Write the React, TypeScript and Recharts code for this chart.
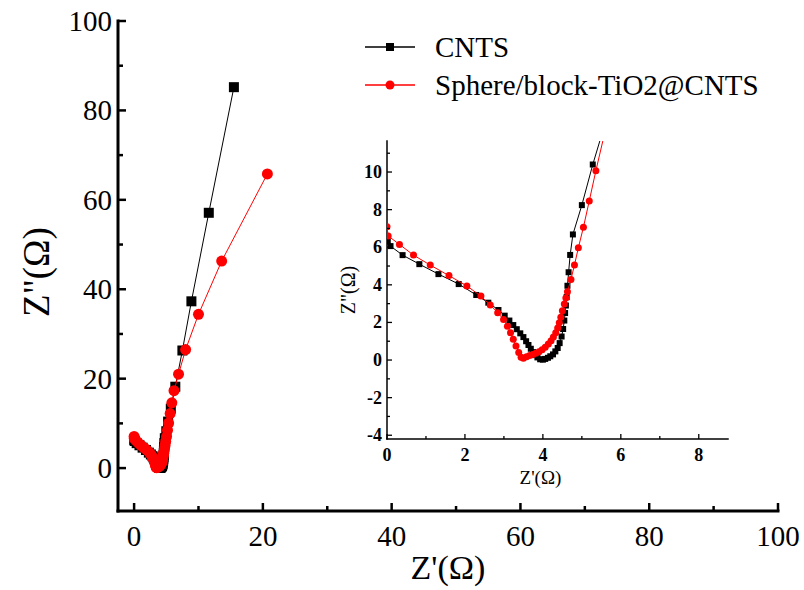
import React from 'react';
import { ScatterChart, Scatter, XAxis, YAxis, Label } from 'recharts';

// ---- data ----
const seriesNames = ['CNTS', 'Sphere/block-TiO2@CNTS'];
const seriesColors = ['#000000', '#ff0000'];

// CNTS: Z' (real) and Z'' (imaginary)
const cntsZre = [
  0.02, 0.09, 0.40, 0.83, 1.32, 1.84, 2.29, 2.60, 2.86, 3.02, 3.14, 3.24, 3.33, 3.42, 3.50, 3.57,
  3.63, 3.69, 3.75, 3.80, 3.86, 3.93, 4.00, 4.06, 4.13, 4.19, 4.26, 4.32, 4.38, 4.43, 4.48, 4.52,
  4.55, 4.57, 4.59, 4.61, 4.63, 4.66, 4.70, 4.77, 5.00, 5.28, 5.70, 6.40, 7.50, 8.90, 11.6, 15.5,
];
const cntsZim = [
  6.30, 6.06, 5.58, 5.10, 4.57, 4.04, 3.46, 3.05, 2.66, 2.36, 2.10, 1.86, 1.64, 1.42, 1.22, 1.00,
  0.80, 0.60, 0.42, 0.26, 0.14, 0.04, 0.02, 0.06, 0.12, 0.20, 0.30, 0.46, 0.64, 0.90, 1.25, 1.65,
  2.10, 2.50, 2.90, 3.35, 3.95, 4.67, 5.59, 6.68, 8.24, 10.4, 13.3, 18.2, 26.3, 37.3, 57.1, 85.2,
];

// Sphere/block-TiO2@CNTS
const tioZre = [
  0.00, 0.03, 0.32, 0.68, 1.11, 1.59, 2.05, 2.41, 2.65, 2.84, 2.99, 3.09, 3.17, 3.24, 3.31, 3.38,
  3.44, 3.50, 3.58, 3.66, 3.74, 3.82, 3.90, 3.98, 4.06, 4.14, 4.21, 4.27, 4.33, 4.38, 4.42, 4.46,
  4.50, 4.55, 4.59, 4.63, 4.72, 4.81, 4.91, 5.04, 5.19, 5.36, 5.60, 5.86, 6.20, 6.90, 8.00, 10.0,
  13.6, 20.7,
];
const tioZim = [
  7.09, 6.60, 6.15, 5.58, 5.05, 4.49, 3.94, 3.40, 2.93, 2.52, 2.16, 1.80, 1.45, 1.10, 0.75, 0.40,
  0.15, 0.10, 0.18, 0.24, 0.30, 0.36, 0.44, 0.55, 0.68, 0.85, 1.02, 1.22, 1.45, 1.70, 1.98, 2.28,
  2.62, 2.98, 3.30, 3.63, 4.29, 5.05, 5.97, 7.06, 8.46, 10.07, 12.2, 14.6, 17.3, 21.0, 26.5, 34.4,
  46.3, 65.8,
];

const mainXTicks = [0, 10, 20, 30, 40, 50, 60, 70, 80, 90, 100];
const mainYTicks = [0, 10, 20, 30, 40, 50, 60, 70, 80, 90, 100];
const insetXTicks = [0, 1, 2, 3, 4, 5, 6, 7, 8];
const insetYTicks = [-4, -3, -2, -1, 0, 1, 2, 3, 4, 5, 6, 7, 8, 9, 10, 11];

const mainXDomain = [-2.5, 100];
const mainYDomain = [-9.6, 100];
const insetXDomain = [0, 8.75];
const insetYDomain = [-4.2, 11.65];

const cntsData = cntsZre.map((x, i) => ({ x, y: cntsZim[i] }));
const tioData = tioZre.map((x, i) => ({ x, y: tioZim[i] }));

const FONT = 'Liberation Serif, DejaVu Serif, serif';
const fontStyle = { fontFamily: "'Liberation Serif', 'DejaVu Serif', serif" };

// ---- markers ----
const makeSquare = (size: number, color: string) => (p: any) => {
  if (p.cx == null || p.cy == null) return <g />;
  return <rect x={p.cx - size / 2} y={p.cy - size / 2} width={size} height={size} fill={color} />;
};
const makeCircle = (r: number, color: string) => (p: any) => {
  if (p.cx == null || p.cy == null) return <g />;
  return <circle cx={p.cx} cy={p.cy} r={r} fill={color} />;
};

// ---- ticks (inward) ----
const MainXTick = (p: any) => {
  const v = p.payload.value as number;
  const major = v % 20 === 0;
  return (
    <g>
      <line x1={p.x} x2={p.x} y1={p.y} y2={p.y - (major ? 8 : 5)} stroke="#000" strokeWidth={2.5} />
      {major && (
        <text x={p.x} y={p.y + 35} textAnchor="middle" fontSize={29} fontFamily={FONT} style={fontStyle} fill="#000">
          {v}
        </text>
      )}
    </g>
  );
};
const MainYTick = (p: any) => {
  const v = p.payload.value as number;
  const major = v % 20 === 0;
  return (
    <g>
      <line x1={p.x} x2={p.x + (major ? 8 : 5)} y1={p.y} y2={p.y} stroke="#000" strokeWidth={2.5} />
      {major && (
        <text x={p.x - 6} y={p.y + 10} textAnchor="end" fontSize={29} fontFamily={FONT} style={fontStyle} fill="#000">
          {v}
        </text>
      )}
    </g>
  );
};
const InsetXTick = (p: any) => {
  const v = p.payload.value as number;
  const major = v % 2 === 0;
  return (
    <g>
      <line x1={p.x} x2={p.x} y1={p.y} y2={p.y - (major ? 5 : 3)} stroke="#000" strokeWidth={1.3} />
      {major && (
        <text x={p.x} y={p.y + 22} textAnchor="middle" fontSize={18} fontWeight="bold" fontFamily={FONT} style={fontStyle} fill="#000">
          {v}
        </text>
      )}
    </g>
  );
};
const InsetYTick = (p: any) => {
  const v = p.payload.value as number;
  const major = v % 2 === 0;
  return (
    <g>
      <line x1={p.x} x2={p.x + (major ? 5 : 3)} y1={p.y} y2={p.y} stroke="#000" strokeWidth={1.3} />
      {major && (
        <text x={p.x - 5} y={p.y + 6} textAnchor="end" fontSize={18} fontWeight="bold" fontFamily={FONT} style={fontStyle} fill="#000">
          {v}
        </text>
      )}
    </g>
  );
};

const mainAxisLine = { stroke: '#000', strokeWidth: 3, strokeLinecap: 'square' as const };
const insetAxisLine = { stroke: '#000', strokeWidth: 1.5, strokeLinecap: 'square' as const };

export default function App() {
  return (
    <div style={{ position: 'absolute', left: 0, top: 0, width: 804, height: 590, background: '#fff', ...fontStyle }}>
      {/* main chart */}
      <div style={{ position: 'absolute', left: 0, top: 0 }}>
        <ScatterChart width={804} height={590} margin={{ top: 21, right: 26, bottom: 0, left: 0 }}>
          <XAxis
            type="number"
            dataKey="x"
            domain={mainXDomain}
            ticks={mainXTicks}
            interval={0}
            height={79}
            tickSize={0}
            tickMargin={0}
            tickLine={false}
            axisLine={mainAxisLine}
            tick={<MainXTick />}
            allowDataOverflow
          >
            <Label
              content={(lp: any) => (
                <text
                  x={lp.viewBox.x + lp.viewBox.width / 2}
                  y={lp.viewBox.y + 68}
                  textAnchor="middle"
                  fontSize={34}
                  fontFamily={FONT}
                  style={fontStyle}
                  fill="#000"
                >
                  Z'(Ω)
                </text>
              )}
            />
          </XAxis>
          <YAxis
            type="number"
            dataKey="y"
            domain={mainYDomain}
            ticks={mainYTicks}
            interval={0}
            width={118}
            tickSize={0}
            tickMargin={0}
            tickLine={false}
            axisLine={mainAxisLine}
            tick={<MainYTick />}
            allowDataOverflow
          >
            <Label
              content={(lp: any) => {
                const cx = 36;
                const cy = lp.viewBox.y + lp.viewBox.height / 2 + 6;
                return (
                  <text
                    x={cx}
                    y={cy}
                    transform={`rotate(-90 ${cx} ${cy})`}
                    textAnchor="middle"
                    dominantBaseline="central"
                    fontSize={37}
                    fontFamily={FONT}
                    style={fontStyle}
                    fill="#000"
                  >
                    Z"(Ω)
                  </text>
                );
              }}
            />
          </YAxis>
          <XAxis xAxisId="top" orientation="top" type="number" domain={mainXDomain} height={0} tick={false} tickLine={false} axisLine={mainAxisLine} />
          <YAxis yAxisId="right" orientation="right" type="number" domain={mainYDomain} width={0} tick={false} tickLine={false} axisLine={mainAxisLine} />
          <Scatter
            name={seriesNames[0]}
            data={cntsData}
            line={{ stroke: seriesColors[0], strokeWidth: 1 }}
            lineType="joint"
            shape={makeSquare(10, seriesColors[0])}
            isAnimationActive={false}
          />
          <Scatter
            name={seriesNames[1]}
            data={tioData}
            line={{ stroke: seriesColors[1], strokeWidth: 1 }}
            lineType="joint"
            shape={makeCircle(5.5, seriesColors[1])}
            isAnimationActive={false}
          />
        </ScatterChart>
      </div>

      {/* inset chart */}
      <div style={{ position: 'absolute', left: 330, top: 130 }}>
        <ScatterChart width={410} height={370} margin={{ top: 11, right: 12, bottom: 0, left: 0 }}>
          <XAxis
            type="number"
            dataKey="x"
            domain={insetXDomain}
            ticks={insetXTicks}
            interval={0}
            height={61}
            tickSize={0}
            tickMargin={0}
            tickLine={false}
            axisLine={insetAxisLine}
            tick={<InsetXTick />}
            allowDataOverflow
          >
            <Label
              content={(lp: any) => (
                <text
                  x={lp.viewBox.x + lp.viewBox.width / 2 - 17}
                  y={lp.viewBox.y + 45}
                  textAnchor="middle"
                  fontSize={19}
                  fontFamily={FONT}
                  style={fontStyle}
                  fill="#000"
                >
                  Z'(Ω)
                </text>
              )}
            />
          </XAxis>
          <YAxis
            type="number"
            dataKey="y"
            domain={insetYDomain}
            ticks={insetYTicks}
            interval={0}
            width={57}
            tickSize={0}
            tickMargin={0}
            tickLine={false}
            axisLine={insetAxisLine}
            tick={<InsetYTick />}
            allowDataOverflow
          >
            <Label
              content={(lp: any) => {
                const cx = 18;
                const cy = lp.viewBox.y + lp.viewBox.height / 2;
                return (
                  <text
                    x={cx}
                    y={cy}
                    transform={`rotate(-90 ${cx} ${cy})`}
                    textAnchor="middle"
                    dominantBaseline="central"
                    fontSize={20}
                    fontFamily={FONT}
                    style={fontStyle}
                    fill="#000"
                  >
                    Z"(Ω)
                  </text>
                );
              }}
            />
          </YAxis>
          <XAxis xAxisId="top" orientation="top" type="number" domain={insetXDomain} height={0} tick={false} tickLine={false} axisLine={insetAxisLine} />
          <YAxis yAxisId="right" orientation="right" type="number" domain={insetYDomain} width={0} tick={false} tickLine={false} axisLine={insetAxisLine} />
          <Scatter
            name={seriesNames[0]}
            data={cntsData}
            line={{ stroke: seriesColors[0], strokeWidth: 1 }}
            lineType="joint"
            shape={makeSquare(6, seriesColors[0])}
            isAnimationActive={false}
          />
          <Scatter
            name={seriesNames[1]}
            data={tioData}
            line={{ stroke: seriesColors[1], strokeWidth: 1 }}
            lineType="joint"
            shape={makeCircle(3.5, seriesColors[1])}
            isAnimationActive={false}
          />
        </ScatterChart>
      </div>

      {/* legend */}
      <svg style={{ position: 'absolute', left: 355, top: 25 }} width={430} height={80}>
        {seriesNames.map((name, i) => {
          const y = 22 + i * 38;
          return (
            <g key={name}>
              <line x1={10} x2={60} y1={y} y2={y} stroke={seriesColors[i]} strokeWidth={1.5} />
              {i === 0 ? (
                <rect x={31} y={y - 4} width={8} height={8} fill={seriesColors[i]} />
              ) : (
                <circle cx={35} cy={y} r={4.5} fill={seriesColors[i]} />
              )}
              <text x={80} y={y + 10} fontSize={29} fontFamily={FONT} style={fontStyle} fill="#000">
                {name}
              </text>
            </g>
          );
        })}
      </svg>
    </div>
  );
}
